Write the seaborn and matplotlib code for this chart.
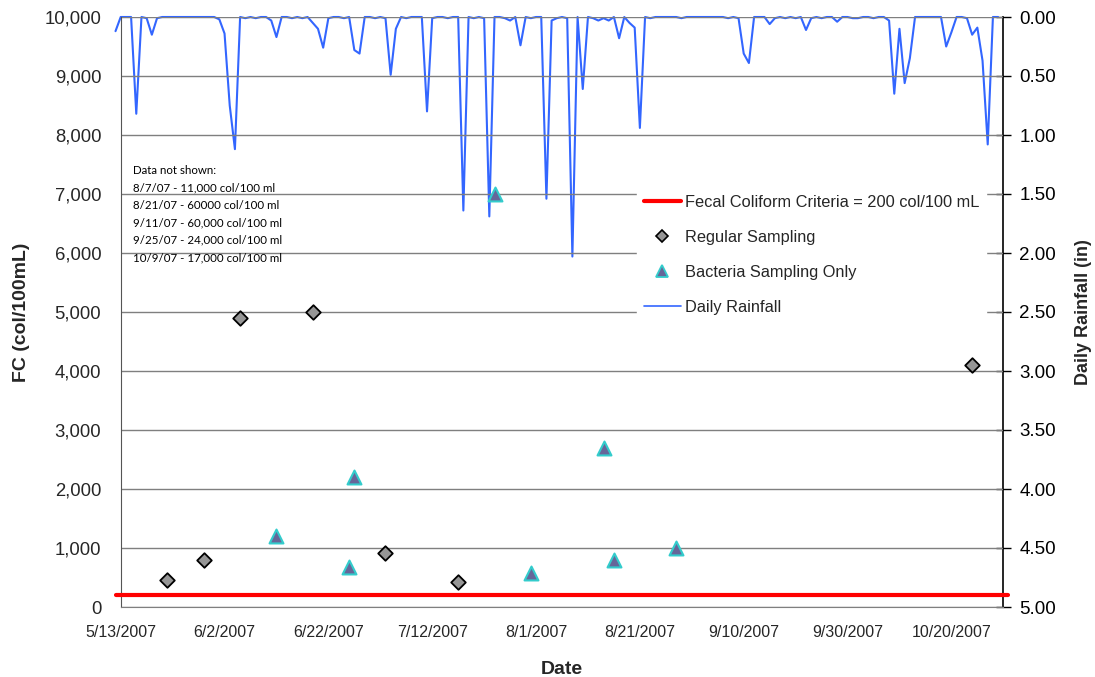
import matplotlib
matplotlib.use("Agg")
import matplotlib.pyplot as plt
from matplotlib.lines import Line2D
from matplotlib.ticker import FuncFormatter
import seaborn as sns
import pandas as pd

# ---------------- data ----------------
rain_start = "2007-05-12"
rain_in = [
    0.12, 0, 0, 0, 0.82, 0, 0.01, 0.15, 0.01, 0,
    0, 0, 0, 0, 0, 0, 0, 0, 0, 0,
    0.02, 0.14, 0.75, 1.12, 0, 0.01, 0, 0.01, 0, 0,
    0.03, 0.17, 0, 0, 0.01, 0, 0.01, 0, 0.05, 0.10,
    0.26, 0.01, 0, 0, 0.01, 0, 0.28, 0.31, 0, 0,
    0.01, 0, 0.01, 0.49, 0.10, 0, 0.01, 0, 0, 0,
    0.80, 0.01, 0, 0, 0.01, 0, 0, 1.64, 0, 0.01,
    0, 0.01, 1.69, 0, 0, 0.01, 0.03, 0, 0.24, 0,
    0.01, 0, 0, 1.54, 0.03, 0.01, 0, 0.01, 2.03, 0,
    0.61, 0, 0.01, 0.03, 0.01, 0.03, 0, 0.18, 0, 0.05,
    0.09, 0.94, 0, 0.01, 0, 0, 0, 0, 0, 0.01,
    0, 0, 0, 0, 0, 0, 0, 0, 0.01, 0,
    0.01, 0.31, 0.39, 0, 0, 0, 0.06, 0.01, 0, 0.01,
    0, 0.01, 0, 0.11, 0.01, 0, 0.01, 0, 0, 0.04,
    0, 0, 0.01, 0.01, 0, 0, 0.01, 0, 0, 0.03,
    0.65, 0.10, 0.56, 0.35, 0, 0, 0, 0, 0, 0,
    0.25, 0.13, 0, 0, 0.01, 0.15, 0.09, 0.37, 1.08, 0,
    0,
]

regular_dates = ["2007-05-22", "2007-05-29", "2007-06-05", "2007-06-19",
                 "2007-07-03", "2007-07-17", "2007-10-24"]
regular_fc = [460, 790, 4900, 5000, 920, 430, 4100]

bacteria_dates = ["2007-06-12", "2007-06-26", "2007-06-27", "2007-07-24",
                  "2007-07-31", "2007-08-14", "2007-08-16", "2007-08-28"]
bacteria_fc = [1200, 680, 2200, 7000, 580, 2700, 800, 1000]

criteria_dates = ["2007-05-12", "2007-10-31"]
criteria_fc = [200, 200]

x_tick_labels = ["5/13/2007", "6/2/2007", "6/22/2007", "7/12/2007", "8/1/2007",
                 "8/21/2007", "9/10/2007", "9/30/2007", "10/20/2007"]
x_range = ["2007-05-13", "2007-10-30"]
fc_ticks = [0, 1000, 2000, 3000, 4000, 5000, 6000, 7000, 8000, 9000, 10000]
rain_ticks = [0, 0.5, 1.0, 1.5, 2.0, 2.5, 3.0, 3.5, 4.0, 4.5, 5.0]

note_lines = ["Data not shown:",
              "8/7/07 - 11,000 col/100 ml",
              "8/21/07 - 60000 col/100 ml",
              "9/11/07 - 60,000 col/100 ml",
              "9/25/07 - 24,000 col/100 ml",
              "10/9/07 - 17,000 col/100 ml"]

legend_labels = ["Fecal Coliform Criteria = 200 col/100 mL", "Regular Sampling",
                 "Bacteria Sampling Only", "Daily Rainfall"]

# ---------------- style ----------------
sns.set_style("white")
plt.rcParams['font.family'] = ['Liberation Sans', 'DejaVu Sans']

RAIN_C = "#3366FF"
RED = "#FF0000"
GRID = "#7F7F7F"

fig = plt.figure(figsize=(10.95, 6.77), dpi=100)
W, H = 1095, 677
x0, x1, y0, y1 = 120.7, 1003.3, 17, 607
ax = fig.add_axes([x0 / W, 1 - y1 / H, (x1 - x0) / W, (y1 - y0) / H])
ax2 = ax.twinx()
ax.set_zorder(ax2.get_zorder() + 1)
ax.patch.set_visible(False)

# rainfall (secondary, inverted)
rain_df = pd.DataFrame({"date": pd.date_range(rain_start, periods=len(rain_in), freq="D"),
                        "rain": rain_in})
sns.lineplot(data=rain_df, x="date", y="rain", ax=ax2, color=RAIN_C, linewidth=1.5,
             clip_on=False)
ax2.set_ylim(5, 0)
ax2.set_yticks(rain_ticks)
ax2.yaxis.set_major_formatter(FuncFormatter(lambda v, p: f"{v:.2f}"))
ax2.set_ylabel("Daily Rainfall (in)", fontsize=13, fontweight="bold", labelpad=14)
ax2.tick_params(axis="y", direction="inout", length=10.8, width=1, colors="black",
                labelsize=13.5, pad=6)
for s in ["top", "left", "bottom"]:
    ax2.spines[s].set_visible(False)
ax2.spines["right"].set_color("black")
ax2.spines["right"].set_linewidth(1.2)

# criteria line
crit_df = pd.DataFrame({"date": pd.to_datetime(criteria_dates), "fc": criteria_fc})
sns.lineplot(data=crit_df, x="date", y="fc", ax=ax, color=RED, linewidth=3,
             clip_on=False, zorder=3)

# samples
sns.scatterplot(x=pd.to_datetime(regular_dates), y=regular_fc, ax=ax, marker="D", s=55,
                color="#969696", edgecolor="black", linewidth=1.3, zorder=5)
sns.scatterplot(x=pd.to_datetime(bacteria_dates), y=bacteria_fc, ax=ax, marker="^", s=100,
                color="#666699", edgecolor="#33CCCC", linewidth=1.5, zorder=5)

ax.set_xlim(pd.to_datetime(x_range[0]), pd.to_datetime(x_range[1]))
ax.set_ylim(0, 10000)
ax.set_yticks(fc_ticks)
ax.yaxis.set_major_formatter(FuncFormatter(lambda v, p: f"{int(v):,}"))
ax.set_xticks(pd.to_datetime(x_tick_labels, format="%m/%d/%Y"))
ax.set_xticklabels(x_tick_labels)
ax.tick_params(axis="x", direction="out", length=4, width=1, color=GRID,
               labelsize=11.5, pad=9)
ax.tick_params(axis="y", length=0, labelsize=13.3, pad=14)
ax.grid(axis="y", color=GRID, linewidth=1)
ax.grid(axis="x", visible=False)
ax.set_axisbelow(True)
ax.spines["top"].set_visible(False)
ax.spines["right"].set_visible(False)
ax.spines["left"].set_color("#555555")
ax.spines["bottom"].set_color(GRID)
ax.set_xlabel("Date", fontsize=14, fontweight="bold", labelpad=15)
ax.set_ylabel("FC (col/100mL)", fontsize=14, fontweight="bold", labelpad=10)

# note text
for i, line in enumerate(note_lines):
    ypix = 171 + i * 17.3
    ax.text((133 - x0) / (x1 - x0), (y1 - ypix) / (y1 - y0), line,
            transform=ax.transAxes, fontsize=8.3, family=["Lato", "DejaVu Sans"],
            va="center", ha="left", color="black")

# legend
handles = [
    Line2D([], [], color=RED, linewidth=3),
    Line2D([], [], linestyle="none", marker="D", markersize=6.5, markerfacecolor="#969696",
           markeredgecolor="black", markeredgewidth=1.2),
    Line2D([], [], linestyle="none", marker="^", markersize=8, markerfacecolor="#666699",
           markeredgecolor="#33CCCC", markeredgewidth=1.3),
    Line2D([], [], color=RAIN_C, linewidth=1.2),
]
leg = ax.legend(handles, legend_labels, loc="upper left",
                bbox_to_anchor=((637 - x0) / (x1 - x0), (y1 - 188) / (y1 - y0)),
                borderaxespad=0, frameon=True, fancybox=False, framealpha=1,
                facecolor="white", edgecolor="white", fontsize=11.8, handlelength=2.3,
                handletextpad=0.25, labelspacing=1.23, borderpad=0.4)
leg.set_zorder(10)

fig.savefig("out.png", dpi=100)
